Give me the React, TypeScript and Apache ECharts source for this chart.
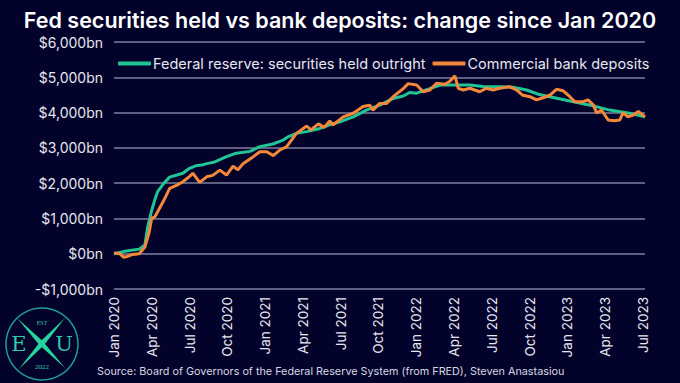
import React, { useEffect, useRef } from "react";
import * as echarts from "echarts";

const fedDates = [
  "2020-01-01", "2020-02-01", "2020-03-01", "2020-03-15", "2020-03-22", "2020-04-01", "2020-04-08",
  "2020-04-15", "2020-04-30", "2020-05-14", "2020-06-01", "2020-06-15", "2020-07-01", "2020-07-16",
  "2020-07-31", "2020-08-15", "2020-09-01", "2020-09-29", "2020-10-23", "2020-11-25", "2020-12-19",
  "2021-01-20", "2021-02-13", "2021-02-25", "2021-03-16", "2021-04-10", "2021-05-12", "2021-06-05",
  "2021-06-29", "2021-08-01", "2021-09-02", "2021-10-04", "2021-11-06", "2021-11-30", "2021-12-16",
  "2022-01-02", "2022-02-03", "2022-02-27", "2022-03-21", "2022-05-09", "2022-06-10", "2022-07-20",
  "2022-08-22", "2022-09-24", "2022-10-25", "2022-11-19", "2023-01-07", "2023-02-24", "2023-04-12",
  "2023-05-30", "2023-07-06",
];
const fedValues = [
  0, 80, 130, 250, 770, 1240, 1520,
  1760, 2000, 2170, 2230, 2280, 2420, 2490,
  2515, 2560, 2600, 2750, 2850, 2900, 3035,
  3110, 3220, 3320, 3410, 3460, 3550, 3650,
  3740, 3880, 4070, 4210, 4400, 4470, 4570,
  4550, 4680, 4780, 4780, 4780, 4740, 4730,
  4720, 4640, 4510, 4450, 4330, 4210, 4070,
  3980, 3880,
];

const depDates = [
  "2020-01-01", "2020-01-15", "2020-01-25", "2020-02-02", "2020-02-15", "2020-03-01", "2020-03-15",
  "2020-03-25", "2020-04-01", "2020-04-08", "2020-04-15", "2020-04-30", "2020-05-14", "2020-06-01",
  "2020-06-15", "2020-07-02", "2020-07-09", "2020-07-26", "2020-08-12", "2020-08-27", "2020-09-13",
  "2020-09-29", "2020-10-15", "2020-10-27", "2020-11-09", "2020-12-03", "2020-12-19", "2021-01-05",
  "2021-01-21", "2021-02-06", "2021-02-21", "2021-03-16", "2021-04-10", "2021-04-20", "2021-05-08",
  "2021-05-22", "2021-06-05", "2021-06-13", "2021-07-07", "2021-08-01", "2021-08-25", "2021-09-10",
  "2021-09-18", "2021-10-04", "2021-10-21", "2021-11-06", "2021-11-30", "2021-12-12", "2022-01-02",
  "2022-01-18", "2022-02-03", "2022-02-18", "2022-03-09", "2022-03-21", "2022-04-03", "2022-04-11",
  "2022-04-23", "2022-05-09", "2022-05-21", "2022-06-02", "2022-06-18", "2022-07-04", "2022-07-20",
  "2022-08-14", "2022-08-31", "2022-09-15", "2022-10-02", "2022-10-18", "2022-11-03", "2022-11-19",
  "2022-12-05", "2022-12-21", "2023-01-07", "2023-01-19", "2023-02-08", "2023-02-19", "2023-03-03",
  "2023-03-11", "2023-03-23", "2023-04-08", "2023-04-22", "2023-05-06", "2023-05-14", "2023-05-26",
  "2023-06-08", "2023-06-20", "2023-07-06",
];
const depValues = [
  20, 0, -100, -80, -20, 0, 190,
  580, 1010, 1040, 1190, 1520, 1850, 1945,
  2040, 2200, 2280, 2020, 2180, 2220, 2370,
  2230, 2480, 2380, 2560, 2750, 2890, 2890,
  2780, 2940, 3035, 3410, 3620, 3510, 3680,
  3580, 3760, 3650, 3880, 3980, 4170, 4210,
  4070, 4260, 4260, 4450, 4680, 4820, 4780,
  4590, 4640, 4830, 4800, 4880, 5040, 4690,
  4640, 4690, 4640, 4590, 4690, 4640, 4690,
  4730, 4640, 4490, 4450, 4360, 4420, 4490,
  4660, 4620, 4450, 4310, 4310, 4360, 4210,
  3990, 4070, 3790, 3770, 3790, 4000, 3880,
  3930, 4030, 3880,
];

const yTicks = [-1000, 0, 1000, 2000, 3000, 4000, 5000, 6000];
const monthNames = ["Jan", "Feb", "Mar", "Apr", "May", "Jun", "Jul", "Aug", "Sep", "Oct", "Nov", "Dec"];
const seriesNames = ["Federal reserve: securities held outright", "Commercial bank deposits"];

function toMonthIndex(d: string): number {
  const [y, m, day] = d.split("-").map(Number);
  const dim = new Date(y, m, 0).getDate();
  return (y - 2020) * 12 + (m - 1) + (day - 1) / dim;
}

const FONT = "Inter, 'Noto Sans', sans-serif";
const GREEN = "#20c495";
const ORANGE = "#f5873a";
const BG = "#02022a";

export default function App() {
  const ref = useRef<HTMLDivElement>(null);
  useEffect(() => {
    document.body.style.margin = "0";
    document.body.style.background = BG;
    const chart = echarts.init(ref.current!, null, { renderer: "svg" });
    const xMax = toMonthIndex(depDates[depDates.length - 1]);
    const cx = 42, cy = 344;
    const blade = (x1: number, y1: number, x2: number, y2: number, w: number) => {
      const mx = (x1 + x2) / 2, my = (y1 + y2) / 2;
      const dx = x2 - x1, dy = y2 - y1;
      const len = Math.sqrt(dx * dx + dy * dy);
      const px = (-dy / len) * w, py = (dx / len) * w;
      return [[x1, y1], [mx + px, my + py], [x2, y2], [mx - px, my - py]];
    };
    chart.setOption({
      animation: false,
      backgroundColor: BG,
      title: {
        text: "Fed securities held vs bank deposits: change since Jan 2020",
        left: "center",
        top: 4,
        textStyle: { color: "#ffffff", fontSize: 21.5, fontWeight: 600, fontFamily: FONT },
      },
      legend: {
        left: 113,
        top: 51,
        itemWidth: 33,
        itemHeight: 4,
        itemGap: 7,
        icon: "roundRect",
        textStyle: { color: "#e6e6ef", fontSize: 14.5, fontFamily: FONT, padding: [0, 0, 0, -3] },
        data: seriesNames,
      },
      grid: { left: 114, right: 35, top: 42, bottom: 94 },
      xAxis: {
        type: "value",
        min: 0,
        max: xMax,
        interval: 3,
        axisLine: { show: false },
        axisTick: { show: false },
        splitLine: { show: false },
        axisLabel: {
          rotate: 90,
          margin: 8,
          color: "#e6e6ef",
          fontSize: 13.5,
          fontFamily: FONT,
          showMaxLabel: true,
          formatter: (v: number) => {
            const r = Math.round(v);
            if (Math.abs(v - r) > 1e-6 || r % 3 !== 0) return "";
            return `${monthNames[r % 12]} ${2020 + Math.floor(r / 12)}`;
          },
        },
      },
      yAxis: {
        type: "value",
        min: yTicks[0],
        max: yTicks[yTicks.length - 1],
        interval: 1000,
        axisLine: { show: false },
        axisTick: { show: false },
        splitLine: { lineStyle: { color: "#7e7e9e", width: 1.5 } },
        axisLabel: {
          margin: 11,
          color: "#e6e6ef",
          fontSize: 14,
          fontFamily: FONT,
          formatter: (v: number) =>
            (v < 0 ? "-$" : "$") + Math.abs(v).toLocaleString("en-US") + "bn",
        },
      },
      series: [
        {
          name: seriesNames[0],
          type: "line",
          showSymbol: false,
          symbol: "none",
          color: GREEN,
          lineStyle: { width: 3, color: GREEN },
          data: fedDates.map((d, i) => [toMonthIndex(d), fedValues[i]]),
        },
        {
          name: seriesNames[1],
          type: "line",
          showSymbol: false,
          symbol: "none",
          color: ORANGE,
          lineStyle: { width: 3, color: ORANGE },
          data: depDates.map((d, i) => [toMonthIndex(d), depValues[i]]),
        },
      ],
      graphic: [
        {
          type: "text",
          left: 97,
          top: 366,
          style: {
            text: "Source: Board of Governors of the Federal Reserve System (from FRED), Steven Anastasiou",
            fill: "#d6d6e0",
            fontSize: 10.8,
            fontFamily: FONT,
          },
        },
        {
          type: "circle",
          shape: { cx, cy, r: 36 },
          style: { fill: "none", stroke: "#1e9e92", lineWidth: 1.5 },
        },
        {
          type: "polygon",
          shape: { points: blade(cx - 25, cy - 26, cx + 23, cy + 24, 2.6) },
          style: { fill: "#27d39c" },
        },
        {
          type: "polygon",
          shape: { points: blade(cx + 23, cy - 26, cx - 23, cy + 25, 2.6) },
          style: { fill: "#27d39c" },
        },
        {
          type: "text",
          x: cx - 23,
          y: cy,
          style: { text: "E", fill: "#32c9a6", fontSize: 21, fontFamily: "'DejaVu Serif', 'Liberation Serif', serif", align: "center", verticalAlign: "middle" },
        },
        {
          type: "text",
          x: cx + 22,
          y: cy,
          style: { text: "U", fill: "#32c9a6", fontSize: 21, fontFamily: "'DejaVu Serif', 'Liberation Serif', serif", align: "center", verticalAlign: "middle" },
        },
        {
          type: "text",
          x: cx,
          y: cy - 21,
          style: { text: "EST", fill: "#32c9a6", fontSize: 6, fontFamily: "'Liberation Serif', serif", align: "center", verticalAlign: "middle" },
        },
        {
          type: "text",
          x: cx,
          y: cy + 23,
          style: { text: "2022", fill: "#32c9a6", fontSize: 7, fontFamily: "'Liberation Serif', serif", align: "center", verticalAlign: "middle" },
        },
      ],
    });
    return () => chart.dispose();
  }, []);
  return <div ref={ref} style={{ width: 680, height: 383 }} />;
}
